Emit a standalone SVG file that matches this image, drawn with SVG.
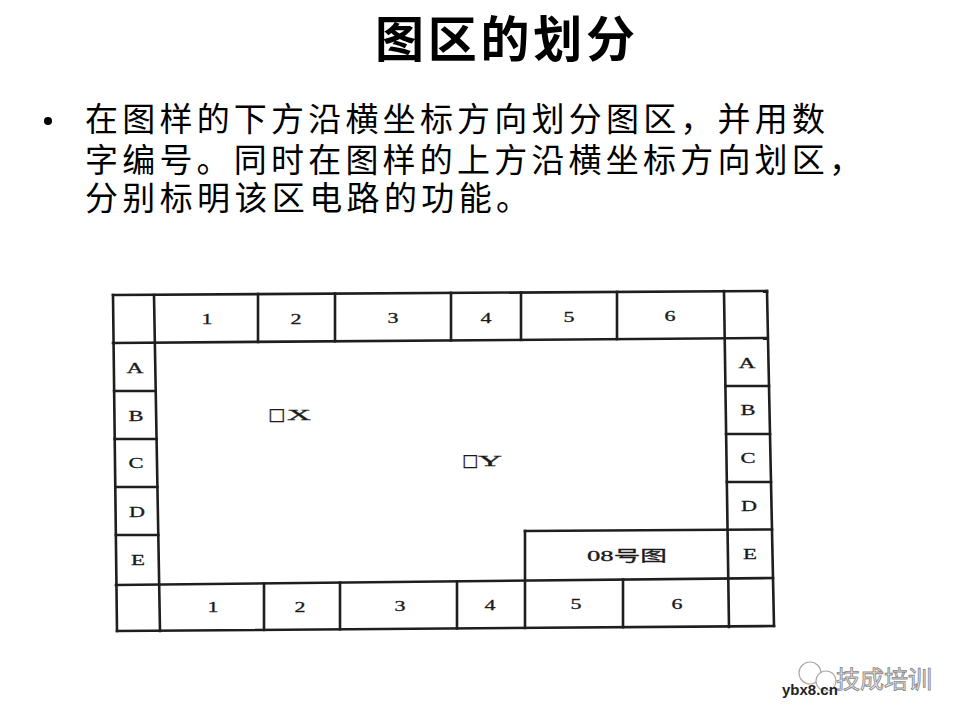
<svg xmlns="http://www.w3.org/2000/svg" width="960" height="720" viewBox="0 0 960 720">
<style>
.bg{fill:#ffffff}
.title{font-family:"Noto Sans CJK SC","Noto Sans CJK JP",sans-serif;font-weight:bold;font-size:49px;fill:#000}
.body{font-family:"Noto Sans CJK SC","Noto Sans CJK JP",sans-serif;font-size:33px;fill:#000}
.frame line{stroke:#1e1e1e;stroke-width:2.6;stroke-linecap:square}
.lbl{font-family:"Liberation Serif","DejaVu Serif",serif;font-size:15px;fill:#1a1a1a;stroke:#1a1a1a;stroke-width:0.3;text-anchor:middle}
.mark{font-family:"Liberation Serif","DejaVu Serif","Noto Sans CJK SC",serif;font-size:15px;fill:#1a1a1a;stroke:#1a1a1a;stroke-width:0.3}
.sq{font-family:"DejaVu Sans",sans-serif;font-size:17px}
.wm{font-family:"Noto Sans CJK SC",sans-serif;font-size:24px;fill:#f4f4f4;stroke:#8a8a8a;stroke-width:0.9}
.url{font-family:"Liberation Sans",Arial,sans-serif;font-size:15px;font-weight:bold;fill:#222}
</style>
<rect class="bg" x="0" y="0" width="960" height="720"/>
<g id="title"><text class="title" x="375" y="57" textLength="260" lengthAdjust="spacing">图区的划分</text></g>
<g id="bullet-text">
<circle cx="48" cy="121" r="4" fill="#000"/>
<text class="body" x="85" y="131" textLength="740" lengthAdjust="spacing">在图样的下方沿横坐标方向划分图区，并用数</text>
<text class="body" x="85" y="172" textLength="777" lengthAdjust="spacing">字编号。同时在图样的上方沿横坐标方向划区，</text>
<text class="body" x="85" y="210" textLength="444" lengthAdjust="spacing">分别标明该区电路的功能。</text>
</g>
<g id="frame" class="frame">
<line x1="113" y1="295" x2="767" y2="291"/>
<line x1="113" y1="343" x2="767" y2="338"/>
<line x1="116" y1="585" x2="773" y2="578"/>
<line x1="117" y1="631" x2="774" y2="626"/>
<line x1="113" y1="295" x2="117" y2="631"/>
<line x1="154" y1="295" x2="160" y2="631"/>
<line x1="724" y1="291" x2="729" y2="627"/>
<line x1="767" y1="291" x2="774" y2="626"/>
<line x1="258" y1="294" x2="258" y2="342"/>
<line x1="335" y1="293.6" x2="335" y2="341.3"/>
<line x1="451" y1="292.9" x2="451" y2="340.4"/>
<line x1="521" y1="292.5" x2="521" y2="339.9"/>
<line x1="617" y1="291.9" x2="617" y2="339.1"/>
<line x1="264" y1="583.4" x2="264" y2="629.9"/>
<line x1="340" y1="582.6" x2="340" y2="629.3"/>
<line x1="457" y1="581.4" x2="457" y2="628.4"/>
<line x1="525" y1="531" x2="525" y2="627.9"/>
<line x1="623" y1="579.6" x2="623" y2="627.2"/>
<line x1="525" y1="531" x2="772" y2="529.5"/>
<line x1="114.1" y1="391" x2="155.7" y2="391"/>
<line x1="114.7" y1="439" x2="156.6" y2="439"/>
<line x1="115.3" y1="487" x2="157.4" y2="487"/>
<line x1="115.9" y1="535" x2="158.3" y2="535"/>
<line x1="725.4" y1="386" x2="769" y2="386"/>
<line x1="726.1" y1="434" x2="770" y2="434"/>
<line x1="726.8" y1="482" x2="771" y2="482"/>
</g>
<g id="labels">
<text class="lbl" x="207" y="324" textLength="11" lengthAdjust="spacingAndGlyphs">1</text>
<text class="lbl" x="296" y="324" textLength="11" lengthAdjust="spacingAndGlyphs">2</text>
<text class="lbl" x="393" y="323" textLength="11" lengthAdjust="spacingAndGlyphs">3</text>
<text class="lbl" x="486" y="323" textLength="11" lengthAdjust="spacingAndGlyphs">4</text>
<text class="lbl" x="569" y="322" textLength="11" lengthAdjust="spacingAndGlyphs">5</text>
<text class="lbl" x="670" y="321" textLength="11" lengthAdjust="spacingAndGlyphs">6</text>
<text class="lbl" x="213" y="612" textLength="11" lengthAdjust="spacingAndGlyphs">1</text>
<text class="lbl" x="300" y="612" textLength="11" lengthAdjust="spacingAndGlyphs">2</text>
<text class="lbl" x="400" y="611" textLength="11" lengthAdjust="spacingAndGlyphs">3</text>
<text class="lbl" x="490" y="610" textLength="11" lengthAdjust="spacingAndGlyphs">4</text>
<text class="lbl" x="576" y="609" textLength="11" lengthAdjust="spacingAndGlyphs">5</text>
<text class="lbl" x="677" y="609" textLength="11" lengthAdjust="spacingAndGlyphs">6</text>
<text class="lbl" x="135" y="373" textLength="17" lengthAdjust="spacingAndGlyphs">A</text>
<text class="lbl" x="136" y="421" textLength="15" lengthAdjust="spacingAndGlyphs">B</text>
<text class="lbl" x="136" y="468" textLength="15" lengthAdjust="spacingAndGlyphs">C</text>
<text class="lbl" x="137" y="517" textLength="16" lengthAdjust="spacingAndGlyphs">D</text>
<text class="lbl" x="138" y="565" textLength="14" lengthAdjust="spacingAndGlyphs">E</text>
<text class="lbl" x="747" y="368" textLength="17" lengthAdjust="spacingAndGlyphs">A</text>
<text class="lbl" x="748" y="415" textLength="15" lengthAdjust="spacingAndGlyphs">B</text>
<text class="lbl" x="748" y="463" textLength="15" lengthAdjust="spacingAndGlyphs">C</text>
<text class="lbl" x="749" y="511" textLength="16" lengthAdjust="spacingAndGlyphs">D</text>
<text class="lbl" x="750" y="559" textLength="14" lengthAdjust="spacingAndGlyphs">E</text>
<text class="lbl" x="627" y="561" textLength="80" lengthAdjust="spacingAndGlyphs" style="font-family:'Liberation Serif','Noto Sans CJK SC',serif">08号图</text>
</g>
<g id="node-x"><text class="mark" x="268" y="420"><tspan class="sq" textLength="17" lengthAdjust="spacingAndGlyphs">□</tspan><tspan x="287" textLength="24" lengthAdjust="spacingAndGlyphs">X</tspan></text></g>
<g id="node-y"><text class="mark" x="462" y="466"><tspan class="sq" textLength="16" lengthAdjust="spacingAndGlyphs">□</tspan><tspan x="478" textLength="24" lengthAdjust="spacingAndGlyphs">Y</tspan></text></g>
<g id="watermark">
<circle cx="810" cy="673" r="11" fill="none" stroke="#aaa" stroke-width="1.2"/>
<circle cx="826" cy="681" r="10" fill="#fff" stroke="#aaa" stroke-width="1.2"/>
<text class="wm" x="836" y="688">技成培训</text>
<text class="url" x="782" y="695">ybx8.cn</text>
</g>
</svg>
